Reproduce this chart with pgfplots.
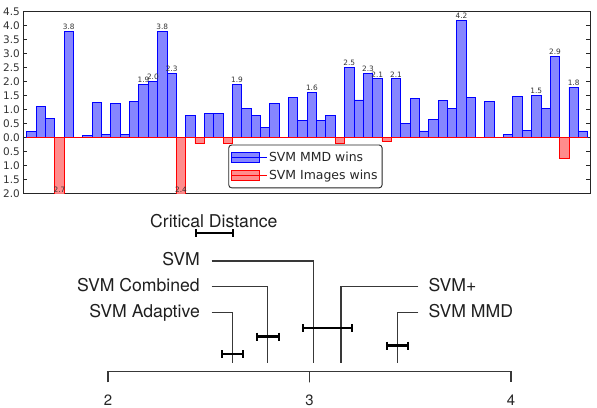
\documentclass[border=0pt]{standalone}
\usepackage{pgfplots}
\usepackage{pgfplotstable}
\pgfplotsset{compat=1.18}
\usepackage{fontspec}
\setmainfont{DejaVu Sans}
\newfontfamily\helv{TeX Gyre Heros}

\definecolor{mmdblue}{RGB}{0,0,255}
\definecolor{mmdfill}{RGB}{134,134,255}
\definecolor{imgred}{RGB}{255,0,0}
\definecolor{imgfill}{RGB}{255,134,134}
\definecolor{cdline}{gray}{0.22}

% per-dataset accuracy gain (positive: SVM MMD better, negative: SVM Images better)
\pgfplotstableread{
idx mmd img
0 0.20 0
1 1.12 0
2 0.68 0
3 0 -2.7
4 3.8 0
5 0 0
6 0.07 0
7 1.24 0
8 0.10 0
9 1.20 0
10 0.10 0
11 1.28 0
12 1.9 0
13 2.0 0
14 3.8 0
15 2.3 0
16 0 -2.4
17 0.78 0
18 0 -0.22
19 0.86 0
20 0.86 0
21 0 -0.22
22 1.9 0
23 1.04 0
24 0.78 0
25 0.35 0
26 1.20 0
27 0 0
28 1.42 0
29 0.62 0
30 1.6 0
31 0.60 0
32 0.80 0
33 0 -0.22
34 2.5 0
35 1.34 0
36 2.3 0
37 2.1 0
38 0 -0.13
39 2.1 0
40 0.50 0
41 1.40 0
42 0.23 0
43 0.65 0
44 1.31 0
45 1.04 0
46 4.2 0
47 1.42 0
48 0 0
49 1.30 0
50 0 0
51 0.10 0
52 1.46 0
53 0.24 0
54 1.5 0
55 1.04 0
56 2.9 0
57 0 -0.75
58 1.8 0
59 0.23 0
}\winstable

\tikzset{
  cdthin/.style={cdline, line width=1.3bp, mark=none},
  cdbar/.style={black, line width=2.4bp, mark=|, mark size=4bp, mark options={line width=2bp, solid}},
}

\begin{document}
\begin{tikzpicture}
\path[use as bounding box] (0,0) rectangle (597bp,408bp);

% ---------- bar chart of wins ----------
\begin{axis}[
  at={(23.3bp,214.7bp)}, anchor=south west,
  scale only axis, width=566.7bp, height=181.6bp,
  ybar, bar width=1, bar shift=0pt,
  xmin=-0.864, xmax=59.75, ymin=-2, ymax=4.5,
  xtick=\empty,
  ytick={-2,-1.5,-1,-0.5,0,0.5,1,1.5,2,2.5,3,3.5,4,4.5},
  yticklabel={\pgfmathparse{abs(\tick)}\pgfmathprintnumber[fixed,fixed zerofill,precision=1]{\pgfmathresult}},
  /pgf/number format/assume math mode=true,
  yticklabel style={font=\fontsize{10.5}{12}\selectfont, text=black!80},
  major tick length=4bp,
  tick style={black!85, line width=0.7bp},
  axis line style={black!85, line width=0.9bp},
  legend style={at={(0.3617,0.0275)}, anchor=south west,
    draw=black!85, rounded corners=3bp, line width=0.9bp,
    font=\fontsize{12.5}{14}\selectfont, text=black!85,
    inner xsep=2.5bp, inner ysep=5bp, row sep=3bp,
    cells={anchor=west}},
  legend image code/.code={\draw[#1, sharp corners] (0bp,-4.8bp) rectangle (28bp,4.8bp); \path (0bp,0bp) -- (35bp,0bp);},
]
\addplot[draw=mmdblue, fill=mmdfill, line width=0.8bp] table[x=idx, y=mmd] {\winstable};
\addlegendentry{SVM MMD wins}
\addplot[draw=imgred, fill=imgfill, fill opacity=0.95, line width=0.8bp] table[x=idx, y=img] {\winstable};
\addlegendentry{SVM Images wins}

% value labels on the larger gains
\addplot[draw=none, fill=none, forget plot,
  nodes near coords, point meta=explicit symbolic,
  every node near coord/.append style={font=\fontsize{7.4}{8}\selectfont, text=black!80, inner sep=1.5bp}]
  coordinates {
    (4,3.8) [3.8] (12,1.9) [1.9] (13,2.0) [2.0] (14,3.8) [3.8] (15,2.3) [2.3]
    (22,1.9) [1.9] (30,1.6) [1.6] (34,2.5) [2.5] (36,2.3) [2.3] (37,2.1) [2.1]
    (39,2.1) [2.1] (46,4.2) [4.2] (54,1.5) [1.5] (56,2.9) [2.9] (58,1.8) [1.8]
  };
\node[font=\fontsize{7.4}{8}\selectfont, text=black!80, anchor=south, inner sep=0.6bp] at (axis cs:3,-2) {2.7};
\node[font=\fontsize{7.4}{8}\selectfont, text=black!80, anchor=south, inner sep=0.6bp] at (axis cs:16,-2) {2.4};
\end{axis}

% ---------- critical difference diagram (average ranks) ----------
\begin{axis}[
  at={(0bp,0bp)}, anchor=south west,
  scale only axis, width=597bp, height=200bp,
  xmin=1.46402, xmax=4.42680, ymin=0, ymax=200,
  axis lines=none, clip=false,
]
% rank scale
\addplot[cdthin, line width=1.5bp] coordinates {(2,25.5) (2,36.3) (3,36.3) (3,25.5) (3,36.3) (4,36.3) (4,25.5)};
\node[font=\helv\fontsize{15}{17}\selectfont, anchor=base, inner sep=0pt, text=black!85] at (axis cs:2,2.2) {2};
\node[font=\helv\fontsize{15}{17}\selectfont, anchor=base, inner sep=0pt, text=black!85] at (axis cs:3,2.2) {3};
\node[font=\helv\fontsize{15}{17}\selectfont, anchor=base, inner sep=0pt, text=black!85] at (axis cs:4,2.2) {4};

% method lines, from the name to the average rank
\addplot[cdthin] coordinates {(2.5146,147) (3.019,147) (3.019,44.7)};
\addplot[cdthin] coordinates {(2.5146,121.3) (2.7925,121.3) (2.7925,44.7)};
\addplot[cdthin] coordinates {(2.5146,95.3) (2.619,95.3) (2.619,44.7)};
\addplot[cdthin] coordinates {(3.540,121.3) (3.156,121.3) (3.156,44.7)};
\addplot[cdthin] coordinates {(3.540,95.3) (3.438,95.3) (3.438,44.7)};

\begin{scope}[font=\helv\fontsize{17.7}{20}\selectfont, text=black!88]
\node[anchor=base east, inner sep=0pt] at (axis cs:2.4566,142.3) {SVM};
\node[anchor=base east, inner sep=0pt] at (axis cs:2.4566,116.6) {SVM Combined};
\node[anchor=base east, inner sep=0pt] at (axis cs:2.4566,90.6) {SVM Adaptive};
\node[anchor=base west, inner sep=0pt] at (axis cs:3.5896,116.6) {SVM+};
\node[anchor=base west, inner sep=0pt] at (axis cs:3.5896,90.6) {SVM MMD};
\node[anchor=base, inner sep=0pt] at (axis cs:2.525,180.7) {Critical Distance};
\end{scope}

% critical distance and rank intervals
\addplot[cdbar] coordinates {(2.4367,174.7) (2.6218,174.7)};
\addplot[cdbar] coordinates {(2.564,53.7) (2.671,53.7)};
\addplot[cdbar] coordinates {(2.741,71.3) (2.849,71.3)};
\addplot[cdbar] coordinates {(2.966,79.7) (3.209,79.7)};
\addplot[cdbar] coordinates {(3.383,62.3) (3.490,62.3)};
\end{axis}
\end{tikzpicture}
\end{document}
